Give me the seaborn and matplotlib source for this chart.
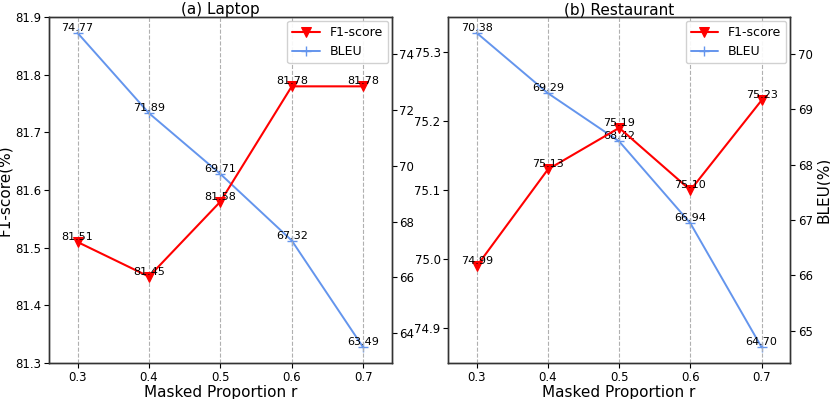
import pandas as pd
import seaborn as sns
import matplotlib.pyplot as plt

# Data
ratios = [0.3, 0.4, 0.5, 0.6, 0.7]
laptop_f1 = [81.51, 81.45, 81.58, 81.78, 81.78]
laptop_bleu = [74.77, 71.89, 69.71, 67.32, 63.49]
rest_f1 = [74.99, 75.13, 75.19, 75.10, 75.23]
rest_bleu = [70.38, 69.29, 68.42, 66.94, 64.70]
titles = ['(a) Laptop', '(b) Restaurant']

sns.set_style('ticks')
plt.rcParams['font.family'] = ['DejaVu Sans']
plt.rcParams.update({'text.color': 'black', 'axes.labelcolor': 'black',
                     'xtick.color': 'black', 'ytick.color': 'black'})

fig = plt.figure(figsize=(8.3, 3.99), dpi=100)
ax_a = fig.add_axes([0.059, 0.090, 0.413, 0.867])
ax_b = fig.add_axes([0.540, 0.090, 0.412, 0.867])

panels = [
    (ax_a, laptop_f1, laptop_bleu, (81.3, 81.9)),
    (ax_b, rest_f1, rest_bleu, (74.85, 75.35)),
]

for i, (ax, f1, bleu, f1_lim) in enumerate(panels):
    df = pd.DataFrame({'r': ratios, 'f1': f1, 'bleu': bleu})
    ax2 = ax.twinx()
    sns.lineplot(data=df, x='r', y='f1', ax=ax, color='red', marker='v',
                 markersize=7, markeredgecolor='red', linewidth=1.5,
                 label='F1-score', legend=False)
    sns.lineplot(data=df, x='r', y='bleu', ax=ax2, color='cornflowerblue',
                 marker='+', markersize=7, markeredgecolor='cornflowerblue',
                 markeredgewidth=1.0, linewidth=1.4, label='BLEU', legend=False)
    ax.set_zorder(ax2.get_zorder() + 1)
    ax.patch.set_visible(False)

    for x, v in zip(ratios, f1):
        ax.text(x, v, f'{v:.2f}', ha='center', va='bottom', fontsize=8)
    for x, v in zip(ratios, bleu):
        ax2.text(x, v, f'{v:.2f}', ha='center', va='bottom', fontsize=8)

    ax.set_ylim(*f1_lim)
    ax.set_xlim(0.26, 0.74)
    ax.set_xticks(ratios)
    ax.set_xticklabels([f'{r:.1f}' for r in ratios])
    ax.xaxis.grid(True, linestyle='--', color='#b0b0b0', linewidth=0.8)
    ax.set_axisbelow(True)
    ax.set_xlabel('Masked Proportion r', fontsize=11, labelpad=1)
    ax.set_title(titles[i], fontsize=11, pad=2)
    for a in (ax, ax2):
        a.tick_params(labelsize=8.5, length=3.5, pad=2, width=0.8)
        for s in a.spines.values():
            s.set_linewidth(1.0)
            s.set_color('#333333')
    if i == 0:
        ax.set_ylabel('F1-score(%)', fontsize=11, labelpad=2)
        ax2.set_ylabel('')
    else:
        ax.set_ylabel('')
        ax2.set_ylabel('BLEU(%)', fontsize=11, labelpad=2)

    h1, l1 = ax.get_legend_handles_labels()
    h2, l2 = ax2.get_legend_handles_labels()
    ax.legend(h1 + h2, l1 + l2, loc='upper right', fontsize=9,
              framealpha=0.9, borderaxespad=0.3, handlelength=2.2)

plt.savefig('out.png', dpi=100)
